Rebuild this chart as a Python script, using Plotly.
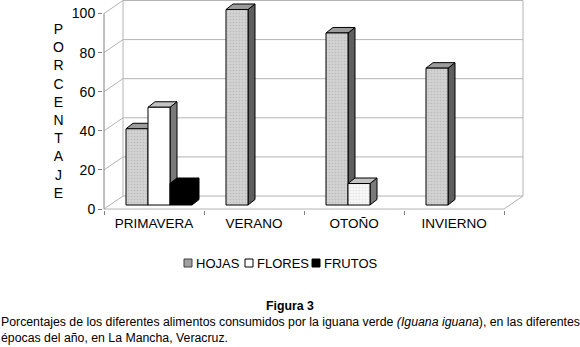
import plotly.graph_objects as go

# ---------------- data ----------------
categories = ["PRIMAVERA", "VERANO", "OTOÑO", "INVIERNO"]
series_names = ["HOJAS", "FLORES", "FRUTOS"]
hojas = [39, 100, 88, 70]
flores = [50, 0, 11, 0]
frutos = [11, 0, 0, 0]
y_ticks = [0, 20, 40, 60, 80, 100]
y_title = "PORCENTAJE"
fig_title = "Figura 3"
caption_1 = ("Porcentajes de los diferentes alimentos consumidos por la iguana verde "
             "<i>(Iguana iguana</i>), en las diferentes")
caption_2 = "épocas del año, en La Mancha, Veracruz."

# ---------------- layout geometry ----------------
FONT = "Arial, Liberation Sans, sans-serif"
W, H = 580, 347
ML, MR, MT, MB = 103, 54, 0, 137
X0, X1 = -0.51, 3.72
Y0, Y1 = -0.5, 106.9
PW = W - ML - MR
PH = H - MT - MB
PXX = PW / (X1 - X0)
PXY = PH / (Y1 - Y0)

BOX_DX, BOX_DY = 19 / PXX, 13 / PXY        # depth of the 3D box
BAR_W = 0.22                                # bar width (category units)
BAR_DX, BAR_DY = 7 / PXX, 5.5 / PXY         # depth of each bar
SHIFT_X, SHIFT_Y = 0.05, 4 / PXY            # bars sit slightly back in the box

n = len(categories)
x_left = -0.5
x_right = n - 0.5

WALL = "#b4b4b4"
AXIS = "#808080"

fills = {
    "HOJAS": dict(front="#cfcfcf", top="#9c9c9c", side="#5e5e5e"),
    "FLORES": dict(front="#ffffff", top="#c4c4c4", side="#7a7a7a"),
    "FRUTOS": dict(front="#000000", top="#000000", side="#000000"),
}
series_vals = {"HOJAS": hojas, "FLORES": flores, "FRUTOS": frutos}

fig = go.Figure()
shapes = []


def line(x0, y0, x1, y1, color=WALL, width=1):
    shapes.append(dict(type="line", xref="x", yref="y", x0=x0, y0=y0, x1=x1, y1=y1,
                       line=dict(color=color, width=width), layer="below"))


# walls / grid of the 3D box
for v in y_ticks:
    line(x_left, v, x_left + BOX_DX, v + BOX_DY)
    line(x_left + BOX_DX, v + BOX_DY, x_right + BOX_DX, v + BOX_DY)
line(x_left + BOX_DX, BOX_DY, x_left + BOX_DX, y_ticks[-1] + BOX_DY)
line(x_right + BOX_DX, BOX_DY, x_right + BOX_DX, y_ticks[-1] + BOX_DY)
line(x_right, 0, x_right + BOX_DX, BOX_DY)
line(x_left, 0, x_right, 0)
line(x_left, 0, x_left, y_ticks[-1], color=AXIS)

# bars (front faces via go.Bar, depth faces via shapes)
face_shapes = []
for k, name in enumerate(series_names):
    vals = series_vals[name]
    xs = [i + SHIFT_X + (k - 1) * BAR_W for i in range(n)]
    ys = [v if v > 0 else None for v in vals]
    if name == "HOJAS":
        marker = dict(color=fills[name]["front"], line=dict(color="black", width=1),
                      pattern=dict(shape=".", bgcolor="#d2d2d2", fgcolor="#a6a6a6",
                                   size=3, solidity=0.25))
    elif name == "FLORES":
        marker = dict(color="white", line=dict(color="black", width=1),
                      pattern=dict(shape=["", "", ".", ""], bgcolor="#f6f6f6",
                                   fgcolor="#d4d4d4", size=3, solidity=0.25))
    else:
        marker = dict(color="black", line=dict(color="black", width=1))
    fig.add_trace(go.Bar(x=xs, y=ys, base=SHIFT_Y, width=BAR_W, name=name,
                         marker=marker, showlegend=False, hoverinfo="skip"))
    for i, v in enumerate(vals):
        if v <= 0:
            continue
        xl = xs[i] - BAR_W / 2
        xr = xs[i] + BAR_W / 2
        b = SHIFT_Y
        t = SHIFT_Y + v
        top = (f"M {xl},{t} L {xr},{t} L {xr + BAR_DX},{t + BAR_DY} "
               f"L {xl + BAR_DX},{t + BAR_DY} Z")
        side = (f"M {xr},{b} L {xr + BAR_DX},{b + BAR_DY} L {xr + BAR_DX},{t + BAR_DY} "
                f"L {xr},{t} Z")
        face_shapes.append((i, k, [
            dict(type="path", xref="x", yref="y", path=side, fillcolor=fills[name]["side"],
                 line=dict(color="black", width=1), layer="below"),
            dict(type="path", xref="x", yref="y", path=top, fillcolor=fills[name]["top"],
                 line=dict(color="black", width=1), layer="below"),
        ]))

for _, _, shp in sorted(face_shapes, key=lambda s: (s[0], s[1])):
    shapes.extend(shp)


def px_x(px):
    return (px - ML) / PW


def px_y(py):
    return (H - MB - py) / PH


# legend (drawn by hand, to match the compact original)
legend_items = [("HOJAS", 184, "#a0a0a0", "#404040"),
                ("FLORES", 245, "#ffffff", "#000000"),
                ("FRUTOS", 312, "#000000", "#000000")]
annotations = []
for name, px, fc, lc in legend_items:
    shapes.append(dict(type="rect", xref="paper", yref="paper",
                       x0=px_x(px), x1=px_x(px + 8), y0=px_y(267), y1=px_y(259),
                       fillcolor=fc, line=dict(color=lc, width=1)))
    annotations.append(dict(text=name, xref="paper", yref="paper", x=px_x(px + 10),
                            y=px_y(263), xanchor="left", yanchor="middle", showarrow=False,
                            font=dict(family=FONT, size=13, color="black")))

annotations.append(dict(text="<br>".join(y_title), xref="paper", yref="paper",
                        x=px_x(58), y=px_y(111), xanchor="center", yanchor="middle",
                        showarrow=False, align="center",
                        font=dict(family=FONT, size=14, color="black")))
annotations.append(dict(text=f"<b>{fig_title}</b>", xref="paper", yref="paper",
                        x=px_x(290), y=px_y(306), xanchor="center", yanchor="middle",
                        showarrow=False, font=dict(family=FONT, size=12.3, color="black")))
annotations.append(dict(text=caption_1, xref="paper", yref="paper",
                        x=px_x(0), y=px_y(322), xanchor="left", yanchor="middle",
                        showarrow=False, borderpad=0,
                        font=dict(family=FONT, size=12.3, color="black")))
annotations.append(dict(text=caption_2, xref="paper", yref="paper",
                        x=px_x(0), y=px_y(338), xanchor="left", yanchor="middle",
                        showarrow=False, borderpad=0,
                        font=dict(family=FONT, size=12.3, color="black")))

fig.update_layout(
    width=W, height=H,
    margin=dict(l=ML, r=MR, t=MT, b=MB, pad=0, autoexpand=False),
    paper_bgcolor="white", plot_bgcolor="white",
    barmode="overlay",
    showlegend=False,
    hovermode=False,
    font=dict(family=FONT, size=14, color="black"),
    shapes=shapes,
    annotations=annotations,
    xaxis=dict(range=[X0, X1], tickmode="array", tickvals=list(range(n)),
               ticktext=categories, showgrid=False, zeroline=False, showline=False,
               automargin=False, fixedrange=True,
               ticks="outside", ticklen=1, tickcolor="rgba(0,0,0,0)",
               tickfont=dict(family=FONT, size=13.5, color="black"),
               minor=dict(tickmode="array", tickvals=[i - 0.5 for i in range(n + 1)],
                          ticks="outside", ticklen=4, tickcolor=AXIS, showgrid=False)),
    yaxis=dict(range=[Y0, Y1], tickmode="array", tickvals=y_ticks,
               showgrid=False, zeroline=False, showline=False, automargin=False,
               fixedrange=True,
               ticks="outside", ticklen=4, tickcolor=AXIS,
               tickfont=dict(family=FONT, size=14, color="black")),
)

fig.write_html("out.html", config={"displayModeBar": False},
               post_script="document.body.style.margin='0';")
